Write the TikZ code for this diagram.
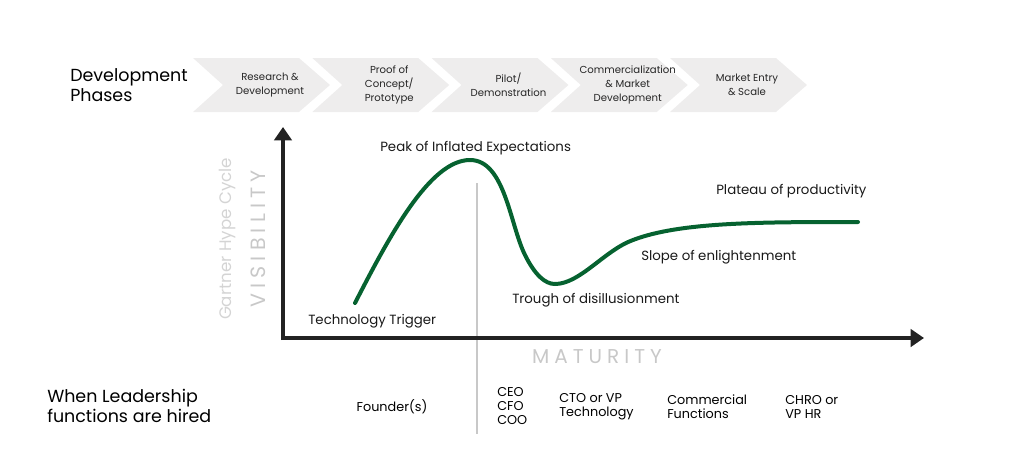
\documentclass[tikz,border=0pt]{standalone}
\usepackage{fontspec}
\setmainfont{Poppins}
\newfontfamily\spacedfont[LetterSpace=25]{Poppins}
\usetikzlibrary{arrows.meta}
\definecolor{chev}{HTML}{EEEDED}
\definecolor{hgreen}{RGB}{6,98,48}
\definecolor{axis}{HTML}{222222}
\definecolor{lgray}{HTML}{C8C8C8}
\definecolor{llgray}{HTML}{D4D4D4}
\tikzset{
  chevtext/.style={align=center,font=\fontsize{7.6}{10.4}\selectfont,text=black!85},
  lbl/.style={font=\fontsize{10}{11}\selectfont,text=black!90,anchor=west,inner sep=0pt},
  big/.style={font=\fontsize{13.1}{15}\selectfont,align=left,anchor=west,inner sep=0pt},
  lead/.style={font=\fontsize{9.6}{10.3}\selectfont,align=left,anchor=west,inner sep=0pt},
  axisline/.style={draw=axis,line width=3pt,-{Triangle[width=13pt,length=10pt]}},
}
\begin{document}
\begin{tikzpicture}[x=0.75pt,y=-0.75pt]
\useasboundingbox (0,0) rectangle (1024,461);
% chevrons
\foreach \i/\t in {0/{Research \&\\Development},1/{Proof of\\Concept/\\Prototype},2/{Pilot/\\Demonstration},3/{Commercialization\\\& Market\\Development},4/{Market Entry\\\& Scale}}{
  \pgfmathsetmacro{\s}{193+119.25*\i}
  \fill[chev] (\s,58) -- (\s+106,58) -- (\s+137,85) -- (\s+106,112) -- (\s,112) -- (\s+30,85) -- cycle;
  \node[chevtext] (c\i) at (\s+77,85) {\t};
}
\node[big] (phases) at (70,85) {Development\\Phases};
% axes
\coordinate (o) at (283,338);
\coordinate (ytip) at (283,127);
\coordinate (xtip) at (924,338);
\draw[draw=lgray,line width=1.2pt] (477,183) coordinate (gtop) -- (477,434) coordinate (gbot);
\draw[axisline] (283,340) -- (ytip);
\draw[axisline] (281,338) -- (xtip);
% curve
\draw[hgreen,line width=3pt,line cap=round] (355,303)
  .. controls (390,235) and (430,160) .. (470,160)
  .. controls (505,160) and (510,225) .. (525,255)
  .. controls (535,275) and (545,284) .. (555,284)
  .. controls (580,284) and (605,250) .. (633,240)
  .. controls (680,222) and (760,222) .. (858,222);
% labels
\node[lbl] (peak) at (380,148) {Peak of Inflated Expectations};
\node[lbl] (trig) at (308,321) {Technology Trigger};
\node[lbl] (trough) at (512,300) {Trough of disillusionment};
\node[lbl] (slope) at (641,257) {Slope of enlightenment};
\node[lbl] (plat) at (716,191) {Plateau of productivity};
\node[font=\fontsize{15}{15}\spacedfont,text=lgray,inner sep=0pt] (mat) at (597,357) {MATURITY};
\node[font=\fontsize{15.5}{15}\spacedfont,text=lgray,inner sep=0pt,rotate=90] (vis) at (258,239) {VISIBILITY};
\node[font=\fontsize{12.5}{13}\selectfont,text=llgray,inner sep=0pt,rotate=90] (gart) at (227,239) {Gartner Hype Cycle};
% leadership
\node[big,font=\fontsize{13.1}{12.8}\selectfont] (when) at (47,406) {When Leadership\\functions are hired};
\node[lead,anchor=center] (found) at (392,407) {Founder(s)};
\node[lead] (ceo) at (497,406) {CEO\\CFO\\COO};
\node[lead] (cto) at (559,407) {CTO or VP\\Technology};
\node[lead] (comm) at (667,407) {Commercial\\Functions};
\node[lead] (chro) at (785,407) {CHRO or\\VP HR};
\end{tikzpicture}
\end{document}
